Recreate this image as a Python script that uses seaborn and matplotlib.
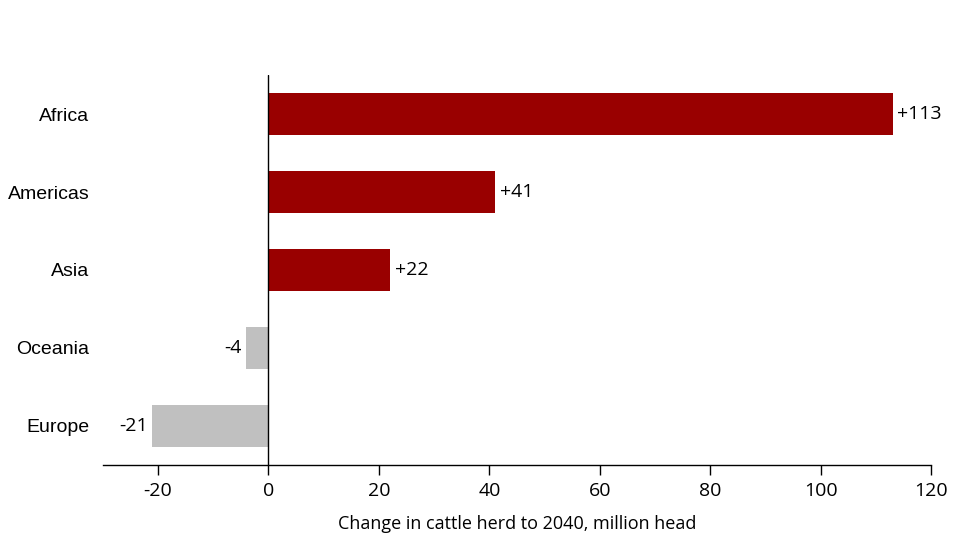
import matplotlib
matplotlib.use("Agg")
import pandas as pd
import seaborn as sns
from matplotlib import pyplot as plt

sns.set_style("white")
plt.rcParams["font.family"] = ["Liberation Sans", "DejaVu Sans"]
plt.rcParams["axes.unicode_minus"] = False

regions = ["Africa", "Americas", "Asia", "Oceania", "Europe"]
change = [113, 41, 22, -4, -21]
value_labels = ["+113", "+41", "+22", "-4", "-21"]

df = pd.DataFrame({"Region": regions, "Change": change})
colours = ["#990000" if v > 0 else "#c0c0c0" for v in change]
num_font = ["Open Sans", "DejaVu Sans"]

fig = plt.figure(figsize=(9.6, 5.4), dpi=100)
ax = fig.add_axes([0.107, 0.139, 0.863, 0.722])
sns.barplot(data=df, y="Region", x="Change", hue="Region", palette=colours,
            legend=False, width=0.54, saturation=1, linewidth=0, ax=ax)

for bar, lab, v in zip(ax.patches, value_labels, change):
    y = bar.get_y() + bar.get_height() / 2
    ax.annotate(lab, (v, y), xytext=(3.5 if v > 0 else -3.5, 0), textcoords="offset points",
                ha="left" if v > 0 else "right", va="center", fontsize=14,
                family=num_font, color="black")

ax.axvline(0, color="black", lw=1)
ax.set_xlim(-30, 120)
ax.set_ylim(4.5, -0.5)
ax.set_xticks(range(-20, 121, 20))
for s in ["left", "right", "top"]:
    ax.spines[s].set_visible(False)
ax.spines["bottom"].set_color("black")
ax.spines["bottom"].set_linewidth(1)
ax.tick_params(axis="x", bottom=True, direction="out", length=7, width=1, color="black",
               labelsize=14, pad=5, labelcolor="black")
ax.tick_params(axis="y", left=False, labelsize=14, pad=6, labelcolor="black")
for t in ax.get_xticklabels():
    t.set_family(num_font)
ax.set_ylabel("")
ax.set_xlabel("Change in cattle herd to 2040, million head", fontsize=13,
              family=num_font, labelpad=11, color="black")

fig.savefig("out.png", dpi=100)
